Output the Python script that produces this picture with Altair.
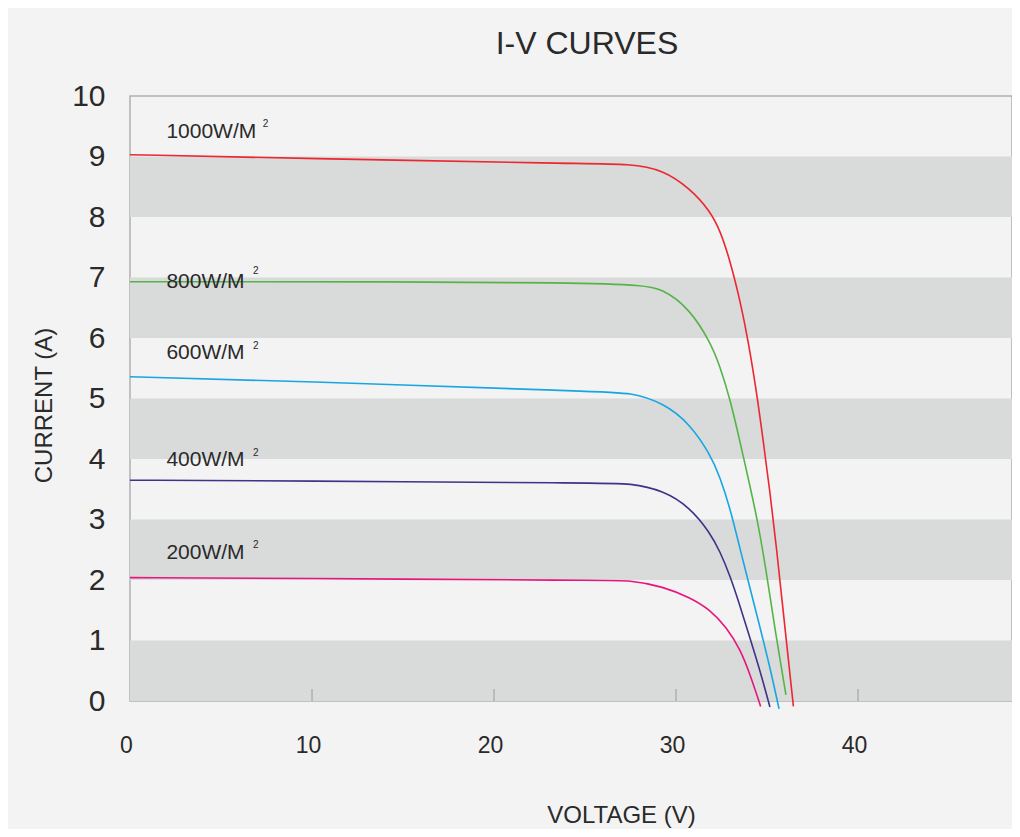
import altair as alt
import pandas as pd

# ---- data ----
series_names = ["1000W/M", "800W/M", "600W/M", "400W/M", "200W/M"]
series_colors = ["#ed2630", "#55b447", "#17a6e4", "#3d3489", "#e8157f"]

v_1000 = [0, 9.3, 24.73, 27.47, 29.30, 30.77, 31.87, 32.42, 32.97, 33.52, 33.97, 34.43, 34.80, 35.16, 35.53, 35.90, 36.45]
i_1000 = [9.03, 8.97, 8.88, 8.88, 8.78, 8.47, 8.10, 7.78, 7.28, 6.62, 5.95, 5.10, 4.28, 3.46, 2.51, 1.45, -0.09]

v_800 = [0, 27.47, 29.30, 30.77, 31.87, 32.42, 32.97, 33.52, 33.96, 34.45, 34.95, 35.44, 36.04]
i_800 = [6.93, 6.93, 6.82, 6.47, 5.94, 5.53, 4.99, 4.28, 3.69, 3.03, 2.17, 1.17, 0.10]

v_600 = [0, 8.79, 25.82, 27.47, 29.30, 30.77, 31.87, 32.42, 32.97, 33.52, 34.07, 34.62, 35.16, 35.66]
i_600 = [5.36, 5.29, 5.11, 5.10, 4.93, 4.58, 4.08, 3.70, 3.19, 2.51, 1.86, 1.21, 0.56, -0.13]

v_400 = [0, 8.79, 25.82, 27.47, 29.30, 30.77, 31.87, 32.42, 32.97, 33.52, 34.07, 34.62, 35.16]
i_400 = [3.65, 3.64, 3.60, 3.60, 3.48, 3.20, 2.78, 2.47, 2.07, 1.57, 1.03, 0.50, -0.10]

v_200 = [0, 8.79, 25.82, 27.47, 29.30, 30.77, 31.87, 32.79, 33.52, 34.07, 34.65]
i_200 = [2.04, 2.03, 1.99, 2.00, 1.89, 1.71, 1.51, 1.21, 0.86, 0.44, -0.09]

label_v = [2.0, 2.0, 2.0, 2.0, 2.0]
label_i = [9.40, 6.93, 5.75, 3.98, 2.45]
sup_text = ["2", "2", "2", "2", "2"]
sup_v = [7.3, 6.76, 6.76, 6.76, 6.76]
sup_i = [9.54, 7.11, 5.87, 4.10, 2.58]

band_lo = [0, 2, 4, 6, 8]
band_hi = [1, 3, 5, 7, 9]

x_ticks = [0, 10, 20, 30, 40]
x_inner_ticks = [10, 20, 30, 40]
y_ticks = [0, 1, 2, 3, 4, 5, 6, 7, 8, 9, 10]

X_MAX = 48.46
FONT = "Liberation Sans"
TXT = "#2a2a2a"

# ---- tables ----
rows = []
for name, vs, cs in zip(series_names,
                        [v_1000, v_800, v_600, v_400, v_200],
                        [i_1000, i_800, i_600, i_400, i_200]):
    for k, (v, c) in enumerate(zip(vs, cs)):
        rows.append({"series": name, "V": v, "I": c, "order": k})
curves = pd.DataFrame(rows)
bands = pd.DataFrame({"lo": band_lo, "hi": band_hi})
ticks = pd.DataFrame({"t": x_inner_ticks})
labels = pd.DataFrame({"text": series_names, "V": label_v, "I": label_i})
sups = pd.DataFrame({"text": sup_text, "V": sup_v, "I": sup_i})

xscale = alt.Scale(domain=[0, X_MAX], nice=False, zero=False)
yscale = alt.Scale(domain=[0, 10], nice=False)

x_axis = alt.Axis(values=x_ticks, title="VOLTAGE (V)", grid=False, ticks=False, domain=False,
                  labelFontSize=23, labelFont=FONT, labelColor=TXT, labelPadding=33, labelOffset=-4,
                  labelFlush=False,
                  titleFontSize=24, titleFont=FONT, titleColor=TXT, titleFontWeight="normal",
                  titleX=491, titleY=114, titleAlign="center", titleBaseline="middle")
y_axis = alt.Axis(values=y_ticks, title="CURRENT (A)", grid=False, ticks=False, domain=False,
                  labelFontSize=30, labelFont=FONT, labelColor=TXT, labelPadding=25, labelFlush=False,
                  titleFontSize=24, titleFont=FONT, titleColor=TXT, titleFontWeight="normal",
                  titleX=-86, titleY=309, titleAlign="center", titleBaseline="middle", titleAngle=270)

band_layer = alt.Chart(bands).mark_rect(color="#d9dada").encode(
    x=alt.value(0), x2=alt.value("width"),
    y=alt.Y("lo:Q", scale=yscale, axis=y_axis), y2="hi:Q",
)

tick_layer = alt.Chart(ticks).mark_rule(color="#b0b0b0", strokeWidth=1.5).encode(
    x=alt.X("t:Q", scale=xscale, axis=x_axis),
    y=alt.value(605), y2=alt.value(593),
)

line_layer = alt.Chart(curves).mark_line(strokeWidth=1.6, interpolate="basis", clip=False).encode(
    x=alt.X("V:Q", scale=xscale, axis=x_axis),
    y=alt.Y("I:Q", scale=yscale, axis=y_axis),
    color=alt.Color("series:N", scale=alt.Scale(domain=series_names, range=series_colors), legend=None),
    order="order:Q",
)

label_layer = alt.Chart(labels).mark_text(align="left", baseline="middle", fontSize=21, font=FONT, color=TXT).encode(
    x=alt.X("V:Q", scale=xscale, axis=x_axis), y=alt.Y("I:Q", scale=yscale, axis=y_axis), text="text:N",
)

sup_layer = alt.Chart(sups).mark_text(align="left", baseline="middle", fontSize=10, font=FONT, color=TXT).encode(
    x=alt.X("V:Q", scale=xscale, axis=x_axis), y=alt.Y("I:Q", scale=yscale, axis=y_axis), text="text:N",
)

chart = alt.layer(band_layer, tick_layer, line_layer, label_layer, sup_layer).properties(
    width=882, height=605,
    autosize=alt.AutoSizeParams(type="none"),
    padding={"left": 122, "top": 88, "right": 0, "bottom": 128},
    background="#f3f3f3",
    title=alt.TitleParams("I-V CURVES", fontSize=32, font=FONT, color=TXT, fontWeight="normal",
                          anchor="middle", dx=16, dy=5, offset=0, baseline="alphabetic"),
).configure_view(stroke="#b0b0b0", strokeWidth=1.5)

chart.save("out.html", embed_options={"renderer": "svg", "actions": False})
